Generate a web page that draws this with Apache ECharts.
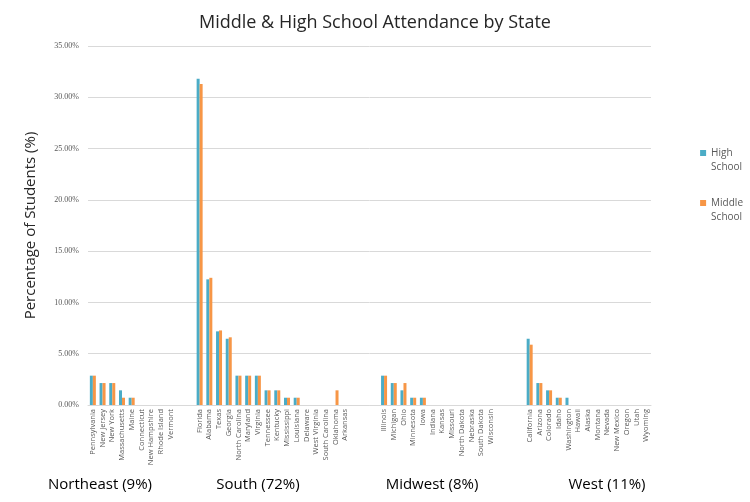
<!DOCTYPE html>
<html>
<head>
<meta charset="utf-8">
<script src="https://cdn.jsdelivr.net/npm/echarts@6/dist/echarts.min.js"></script>
<style>
  html, body { margin: 0; padding: 0; background: #fff; }
  #chart { width: 750px; height: 502px; }
</style>
</head>
<body>
<div id="chart"></div>
<script>
// regions, states and values (% of students)
const regionNames = ["Northeast (9%)", "South (72%)", "Midwest (8%)", "West (11%)"];

const northeastStates = ["Pennsylvania", "New Jersey", "New York", "Massachusetts", "Maine", "Connecticut", "New Hampshire", "Rhode Island", "Vermont"];
const northeastHigh   = [2.86, 2.14, 2.14, 1.43, 0.71, 0, 0, 0, 0];
const northeastMiddle = [2.86, 2.14, 2.14, 0.71, 0.71, 0, 0, 0, 0];

const southStates = ["Florida", "Alabama", "Texas", "Georgia", "North Carolina", "Maryland", "Virginia", "Tennessee", "Kentucky", "Mississippi", "Louisiana", "Delaware", "West Virginia", "South Carolina", "Oklahoma", "Arkansas"];
const southHigh   = [31.8, 12.25, 7.18, 6.46, 2.86, 2.86, 2.86, 1.43, 1.43, 0.71, 0.71, 0, 0, 0, 0, 0];
const southMiddle = [31.3, 12.4, 7.27, 6.6, 2.86, 2.86, 2.86, 1.43, 1.43, 0.71, 0.71, 0, 0, 0, 1.43, 0];

const midwestStates = ["Illinois", "Michigan", "Ohio", "Minnesota", "Iowa", "Indiana", "Kansas", "Missouri", "North Dakota", "Nebraska", "South Dakota", "Wisconsin"];
const midwestHigh   = [2.86, 2.14, 1.43, 0.71, 0.71, 0, 0, 0, 0, 0, 0, 0];
const midwestMiddle = [2.86, 2.14, 2.14, 0.71, 0.71, 0, 0, 0, 0, 0, 0, 0];

const westStates = ["California", "Arizona", "Colorado", "Idaho", "Washington", "Hawaii", "Alaska", "Montana", "Nevada", "New Mexico", "Oregon", "Utah", "Wyoming"];
const westHigh   = [6.46, 2.14, 1.43, 0.71, 0.71, 0, 0, 0, 0, 0, 0, 0, 0];
const westMiddle = [5.88, 2.14, 1.43, 0.71, 0, 0, 0, 0, 0, 0, 0, 0, 0];

// empty slots between region groups
const gapSizes = [2, 3, 3];

const groups = [
  [northeastStates, northeastHigh, northeastMiddle],
  [southStates, southHigh, southMiddle],
  [midwestStates, midwestHigh, midwestMiddle],
  [westStates, westHigh, westMiddle]
];

let categories = [], high = [], middle = [];
groups.forEach((g, i) => {
  categories = categories.concat(g[0]);
  high = high.concat(g[1]);
  middle = middle.concat(g[2]);
  if (i < gapSizes.length) {
    for (let k = 0; k < gapSizes[i]; k++) {
      categories.push(" ".repeat(k + 1 + i * 3));
      high.push(null);
      middle.push(null);
    }
  }
});

const chart = echarts.init(document.getElementById("chart"));

const regionX = [100, 258, 432, 607];

// square sitting at the top of a taller box, so it lines up with the first text line
const legendIcon = "path://M0,0h6v6h-6z M0,20h0.01v0.01h-0.01z";

chart.setOption({
  animation: false,
  title: {
    text: "Middle & High School Attendance by State",
    left: "center",
    top: 9,
    textStyle: { fontFamily: "Open Sans", fontSize: 18, fontWeight: "normal", color: "#262626" }
  },
  legend: {
    orient: "vertical",
    right: 2,
    top: 141,
    itemWidth: 6,
    itemHeight: 20,
    itemGap: 22,
    icon: legendIcon,
    textStyle: { fontFamily: "Open Sans", fontSize: 10, color: "#595959", lineHeight: 14 },
    data: ["High\nSchool", "Middle\nSchool"]
  },
  grid: { left: 88, right: 99, top: 46, bottom: 97 },
  xAxis: {
    type: "category",
    data: categories,
    axisTick: { show: false },
    axisLine: { lineStyle: { color: "#d9d9d9" } },
    axisLabel: {
      interval: 0,
      rotate: 90,
      fontFamily: "Open Sans",
      fontSize: 7.5,
      color: "#595959",
      margin: 4
    }
  },
  yAxis: {
    type: "value",
    min: 0,
    max: 35,
    interval: 5,
    name: "Percentage of Students (%)",
    nameLocation: "middle",
    nameGap: 50,
    nameTextStyle: { fontFamily: "Open Sans", fontSize: 15, color: "#262626" },
    axisLabel: {
      formatter: v => v.toFixed(2) + "%",
      fontFamily: "Liberation Serif",
      fontSize: 8,
      color: "#595959",
      margin: 9
    },
    splitLine: { lineStyle: { color: "#d9d9d9" } }
  },
  series: [
    {
      name: "High\nSchool",
      type: "bar",
      data: high,
      barWidth: 3,
      barGap: "0%",
      itemStyle: { color: "#4bacc6" }
    },
    {
      name: "Middle\nSchool",
      type: "bar",
      data: middle,
      barWidth: 3,
      itemStyle: { color: "#f79646" }
    }
  ],
  graphic: regionNames.map((t, i) => ({
    type: "text",
    x: regionX[i],
    y: 485,
    style: {
      text: t,
      align: "center",
      verticalAlign: "middle",
      font: "15px 'Open Sans'",
      fill: "#000"
    }
  }))
});
</script>
</body>
</html>
